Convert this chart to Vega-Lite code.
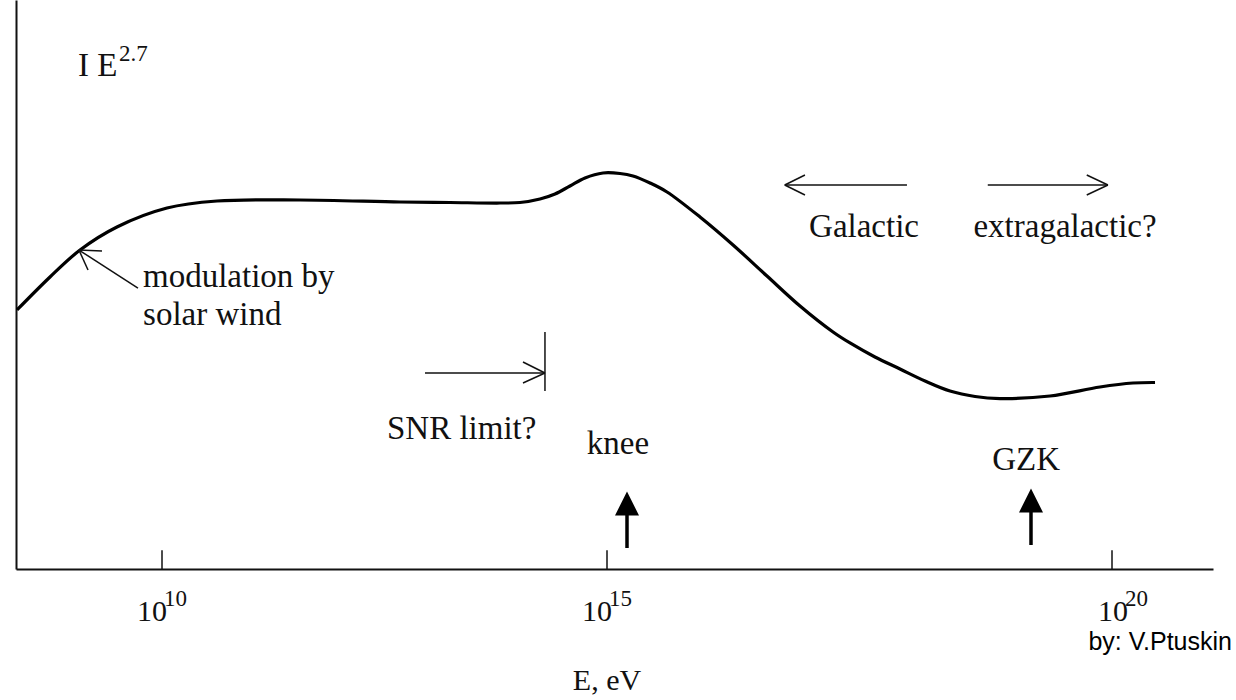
{
  "$schema": "https://vega.github.io/schema/vega-lite/v6.json",
  "width": 1197,
  "height": 569,
  "autosize": "none",
  "padding": {"left": 16, "top": 0, "right": 23, "bottom": 131},
  "background": "white",
  "config": {"view": {"stroke": null}},
  "datasets": {
    "curve": [
      {"x": 8.371, "y": 45.52}, {"x": 8.742, "y": 51.32}, {"x": 9.079, "y": 56.06}, {"x": 9.494, "y": 60.11},
      {"x": 10.056, "y": 63.44}, {"x": 10.618, "y": 64.67}, {"x": 11.551, "y": 64.85}, {"x": 12.674, "y": 64.5},
      {"x": 13.236, "y": 64.41}, {"x": 13.798, "y": 64.32}, {"x": 14.022, "y": 64.41}, {"x": 14.247, "y": 65.03},
      {"x": 14.416, "y": 65.91}, {"x": 14.584, "y": 67.31}, {"x": 14.753, "y": 68.72}, {"x": 14.955, "y": 69.6},
      {"x": 15.129, "y": 69.51}, {"x": 15.257, "y": 69.07}, {"x": 15.426, "y": 67.84}, {"x": 15.594, "y": 66.26},
      {"x": 15.921, "y": 61.86}, {"x": 16.248, "y": 56.94}, {"x": 16.584, "y": 51.49}, {"x": 16.911, "y": 46.22},
      {"x": 17.238, "y": 41.65}, {"x": 17.406, "y": 39.72}, {"x": 17.653, "y": 37.26}, {"x": 17.901, "y": 35.15},
      {"x": 18.149, "y": 33.04}, {"x": 18.396, "y": 31.28}, {"x": 18.644, "y": 30.32}, {"x": 18.891, "y": 29.96},
      {"x": 19.386, "y": 30.4}, {"x": 19.881, "y": 31.99}, {"x": 20.208, "y": 32.69}, {"x": 20.426, "y": 32.78}
    ],
    "thin": [
      {"x": 9.73, "y": 49.38, "x2": 9.067, "y2": 56.06},
      {"x": 9.067, "y": 56.06, "x2": 9.326, "y2": 55.89},
      {"x": 9.067, "y": 56.06, "x2": 9.169, "y2": 52.55},
      {"x": 12.955, "y": 34.45, "x2": 14.303, "y2": 34.45},
      {"x": 14.303, "y": 41.65, "x2": 14.303, "y2": 31.28},
      {"x": 14.303, "y": 34.45, "x2": 14.056, "y2": 36.38},
      {"x": 14.303, "y": 34.45, "x2": 14.056, "y2": 32.69},
      {"x": 17.97, "y": 67.49, "x2": 16.76, "y2": 67.49},
      {"x": 16.76, "y": 67.49, "x2": 16.96, "y2": 69.25},
      {"x": 16.76, "y": 67.49, "x2": 16.96, "y2": 65.73},
      {"x": 18.77, "y": 67.49, "x2": 19.96, "y2": 67.49},
      {"x": 19.96, "y": 67.49, "x2": 19.75, "y2": 69.25},
      {"x": 19.96, "y": 67.49, "x2": 19.75, "y2": 65.73}
    ],
    "thick": [
      {"x": 15.198, "y": 3.69, "x2": 15.198, "y2": 10.0},
      {"x": 19.198, "y": 4.22, "x2": 19.198, "y2": 10.4}
    ],
    "heads": [
      {"x": 15.198, "y": 11.51},
      {"x": 19.198, "y": 12.04}
    ],
    "ticks": [
      {"x": 10, "y": 0, "y2": 3.3},
      {"x": 15, "y": 0, "y2": 3.3},
      {"x": 20, "y": 0, "y2": 3.3}
    ],
    "leftText": [
      {"x": 9.056, "y": 86.6, "t": "I E"},
      {"x": 9.787, "y": 49.56, "t": "modulation by"},
      {"x": 9.787, "y": 42.88, "t": "solar wind"},
      {"x": 12.528, "y": 22.85, "t": "SNR limit?"}
    ],
    "centerText": [
      {"x": 15.109, "y": 20.2, "t": "knee"},
      {"x": 19.149, "y": 17.4, "t": "GZK"},
      {"x": 17.545, "y": 58.35, "t": "Galactic"},
      {"x": 19.535, "y": 58.35, "t": "extragalactic?"}
    ],
    "axisTitle": [
      {"x": 15.0, "y": -21.27, "t": "E, eV"}
    ],
    "tickBase": [
      {"x": 9.719, "y": -9.14, "t": "10"},
      {"x": 14.719, "y": -9.14, "t": "10"},
      {"x": 19.861, "y": -9.14, "t": "10"}
    ],
    "exponents": [
      {"x": 10.022, "y": -6.5, "t": "10"},
      {"x": 15.02, "y": -6.5, "t": "15"},
      {"x": 20.129, "y": -6.5, "t": "20"},
      {"x": 9.517, "y": 89.28, "t": "2.7"}
    ],
    "credit": [
      {"x": 21.188, "y": -14.2, "t": "by: V.Ptuskin"}
    ]
  },
  "encoding": {
    "x": {
      "field": "x", "type": "quantitative",
      "scale": {"domain": [8.36, 10, 15, 20, 21], "range": [0, 146, 591, 1096, 1197], "zero": false, "nice": false},
      "axis": {"domain": true, "domainColor": "#111", "domainWidth": 2, "ticks": false, "labels": false, "grid": false, "title": null}
    },
    "y": {
      "field": "y", "type": "quantitative",
      "scale": {"domain": [0, 100], "zero": false, "nice": false},
      "axis": {"domain": true, "domainColor": "#111", "domainWidth": 2, "ticks": false, "labels": false, "grid": false, "title": null}
    }
  },
  "layer": [
    {
      "data": {"name": "curve"},
      "mark": {"type": "line", "interpolate": "catmull-rom", "stroke": "#000", "strokeWidth": 3.2}
    },
    {
      "data": {"name": "thin"},
      "mark": {"type": "rule", "stroke": "#111", "strokeWidth": 1.5},
      "encoding": {"x2": {"field": "x2"}, "y2": {"field": "y2"}}
    },
    {
      "data": {"name": "thick"},
      "mark": {"type": "rule", "stroke": "#000", "strokeWidth": 3.5},
      "encoding": {"x2": {"field": "x2"}, "y2": {"field": "y2"}}
    },
    {
      "data": {"name": "heads"},
      "mark": {"type": "point", "shape": "M-1,1L0,-1L1,1Z", "size": 576, "filled": true, "fill": "#000", "opacity": 1, "strokeWidth": 0}
    },
    {
      "data": {"name": "ticks"},
      "mark": {"type": "rule", "stroke": "#111", "strokeWidth": 1.5},
      "encoding": {"y2": {"field": "y2"}}
    },
    {
      "data": {"name": "leftText"},
      "mark": {"type": "text", "align": "left", "baseline": "alphabetic", "font": "Liberation Serif", "fontSize": 33, "fill": "#111"},
      "encoding": {"text": {"field": "t"}}
    },
    {
      "data": {"name": "centerText"},
      "mark": {"type": "text", "align": "center", "baseline": "alphabetic", "font": "Liberation Serif", "fontSize": 33, "fill": "#111"},
      "encoding": {"text": {"field": "t"}}
    },
    {
      "data": {"name": "axisTitle"},
      "mark": {"type": "text", "align": "center", "baseline": "alphabetic", "font": "Liberation Serif", "fontSize": 30, "fill": "#111"},
      "encoding": {"text": {"field": "t"}}
    },
    {
      "data": {"name": "tickBase"},
      "mark": {"type": "text", "align": "left", "baseline": "alphabetic", "font": "Liberation Serif", "fontSize": 30, "fill": "#111"},
      "encoding": {"text": {"field": "t"}}
    },
    {
      "data": {"name": "exponents"},
      "mark": {"type": "text", "align": "left", "baseline": "alphabetic", "font": "Liberation Serif", "fontSize": 23, "fill": "#111"},
      "encoding": {"text": {"field": "t"}}
    },
    {
      "data": {"name": "credit"},
      "mark": {"type": "text", "align": "right", "baseline": "alphabetic", "font": "Liberation Sans", "fontSize": 25, "fill": "#000"},
      "encoding": {"text": {"field": "t"}}
    }
  ]
}
